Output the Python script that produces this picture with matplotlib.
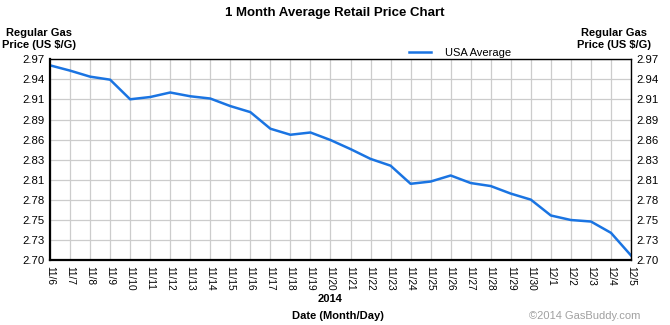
import matplotlib
matplotlib.use("Agg")
import matplotlib.pyplot as plt

plt.rcParams['font.family'] = ['Liberation Sans', 'DejaVu Sans']

# data
dates = ["11/6", "11/7", "11/8", "11/9", "11/10", "11/11", "11/12", "11/13", "11/14", "11/15",
         "11/16", "11/17", "11/18", "11/19", "11/20", "11/21", "11/22", "11/23", "11/24", "11/25",
         "11/26", "11/27", "11/28", "11/29", "11/30", "12/1", "12/2", "12/3", "12/4", "12/5"]
usa_avg = [2.958, 2.951, 2.943, 2.939, 2.913, 2.916, 2.922, 2.917, 2.914, 2.904,
           2.896, 2.874, 2.866, 2.869, 2.859, 2.847, 2.834, 2.825, 2.801, 2.804,
           2.812, 2.802, 2.798, 2.788, 2.780, 2.759, 2.753, 2.751, 2.736, 2.706]
ytick_vals = [2.70, 2.7266, 2.7532, 2.7798, 2.8064, 2.833, 2.8596, 2.8862, 2.9128, 2.9394, 2.966]
ytick_labels = ["2.70", "2.73", "2.75", "2.78", "2.81", "2.83", "2.86", "2.89", "2.91", "2.94", "2.97"]

fig = plt.figure(figsize=(6.7, 3.25), dpi=100)
ax = fig.add_axes([50/670, 65/325, 581/670, 200.7/325])

x = list(range(len(dates)))
ax.plot(x, usa_avg, color='#1a74e2', linewidth=1.8, label='USA Average')

ax.set_xlim(0, len(dates) - 1)
ax.set_ylim(ytick_vals[0], ytick_vals[-1])
ax.set_xticks(x)
ax.set_xticklabels(dates, rotation=270, fontsize=7.3)
ax.set_yticks(ytick_vals)
ax.set_yticklabels(ytick_labels, fontsize=8.2)
ax.tick_params(axis='x', length=0, pad=4.5)
ax.tick_params(axis='y', length=0, pad=4)
ax.grid(True, color='#cccccc', linewidth=0.9)
ax.set_axisbelow(True)
for s in ['top', 'right']:
    ax.spines[s].set_linewidth(1.0)
for s in ['left', 'bottom']:
    ax.spines[s].set_linewidth(1.6)

ax2 = ax.twinx()
ax2.set_ylim(ytick_vals[0], ytick_vals[-1])
ax2.set_yticks(ytick_vals)
ax2.set_yticklabels(ytick_labels, fontsize=8.2)
ax2.tick_params(length=0, pad=4)
for s in ax2.spines.values():
    s.set_visible(False)

fig.text(0.5, 1 - 13/325, "1 Month Average Retail Price Chart", ha='center', va='center',
         fontsize=9.5, fontweight='bold')
fig.text(39/670, 1 - 39/325, "Regular Gas\nPrice (US $/G)", ha='center', va='center',
         fontsize=8, fontweight='bold', linespacing=1.15)
fig.text(614/670, 1 - 39/325, "Regular Gas\nPrice (US $/G)", ha='center', va='center',
         fontsize=8, fontweight='bold', linespacing=1.15)
fig.text(330/670, 1 - 299/325, "2014", ha='center', va='center', fontsize=8, fontweight='bold')
fig.text(338/670, 1 - 316/325, "Date (Month/Day)", ha='center', va='center', fontsize=8,
         fontweight='bold')
fig.text(640/670, 1 - 316/325, "\u00a92014 GasBuddy.com", ha='right', va='center', fontsize=8,
         color='#a0a0a0')

ax.legend(loc='lower left', bbox_to_anchor=(409/670, 1 - 58/325), bbox_transform=fig.transFigure,
          frameon=False, fontsize=8, handlelength=2.0, handletextpad=1.2,
          borderpad=0, borderaxespad=0)

fig.savefig("out.png", dpi=100)
